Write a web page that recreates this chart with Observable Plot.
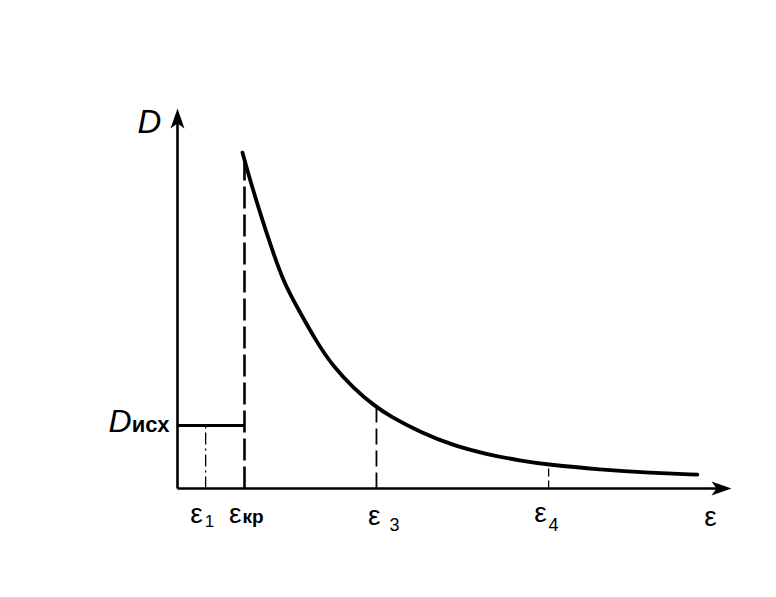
<!DOCTYPE html>
<html>
<head>
<meta charset="utf-8">
<script src="https://cdn.jsdelivr.net/npm/d3@7"></script>
<script src="https://cdn.jsdelivr.net/npm/@observablehq/plot@0.6"></script>
<style>
  html, body { margin: 0; padding: 0; background: #fff; }
</style>
</head>
<body>
<div id="chart"></div>
<script>
// ---- data (arbitrary units: ε along x, D along y) ----
const xMax = 8.27;          // end of ε axis (arrow tip)
const yMax = 6.03;          // end of D axis (arrow tip)
const dInitial = 1;         // D_исх
const dPeak = 5.33;         // D reached at ε_кр
const epsCr = 1;            // ε_кр
const eps1 = 0.42;          // ε_1
const eps3 = 2.97;          // ε_3
const eps4 = 5.54;          // ε_4
const dAtEps3 = 1.29;       // D(ε_3)
const dAtEps4 = 0.38;       // D(ε_4)

// D(ε) after ε_кр
const curveEps = [0.97, 1.09, 1.24, 1.39, 1.58, 1.81, 2.09, 2.33, 2.63, 2.93, 3.18, 3.63, 4.12, 4.63, 5.12, 5.52, 6.31, 7.06, 7.76];
const curveD   = [5.33, 4.87, 4.35, 3.86, 3.28, 2.83, 2.30, 1.93, 1.59, 1.32, 1.14, 0.89, 0.68, 0.54, 0.44, 0.38, 0.30, 0.25, 0.22];

const yLabel = "D";
const yLevelMain = "D";
const yLevelSub = "исх";
const xLabel = "ε";
const epsSymbol = "ε";
const crSub = "кр";
const sub1 = "1";
const sub3 = "3";
const sub4 = "4";

const curve = curveEps.map((e, i) => ({e, d: curveD[i]}));

// narrow filled arrow head, tip at the origin, pointing up
const arrowHead = {
  draw(context) {
    context.moveTo(0, 0);
    context.lineTo(7, 20);
    context.lineTo(0, 15);
    context.lineTo(-7, 20);
    context.closePath();
  }
};

const font = "Liberation Sans, Arial, sans-serif";
const vline = (x, top, opts) =>
  Plot.link([{x, y1: 0, y2: top}], {x1: "x", x2: "x", y1: "y1", y2: "y2", stroke: "black", ...opts});
const label = (x, str, opts) =>
  Plot.text([x], {x: d => d, y: () => 0, text: () => str, fontFamily: font, lineAnchor: "bottom", fill: "black", ...opts});

const chart = Plot.plot({
  width: 776,
  height: 597,
  marginLeft: 177,
  marginRight: 45,
  marginTop: 108,
  marginBottom: 109,
  x: {domain: [0, xMax], axis: null},
  y: {domain: [0, yMax], axis: null},
  marks: [
    // axes
    Plot.link([{x1: 0, y1: 0, x2: xMax - 0.2, y2: 0}], {x1: "x1", y1: "y1", x2: "x2", y2: "y2", stroke: "black", strokeWidth: 2.6}),
    Plot.link([{x1: 0, y1: 0, x2: 0, y2: yMax - 0.2}], {x1: "x1", y1: "y1", x2: "x2", y2: "y2", stroke: "black", strokeWidth: 2.6}),
    Plot.dot([{x: xMax, y: 0}], {x: "x", y: "y", symbol: arrowHead, r: 5, rotate: 90, fill: "black", stroke: "none"}),
    Plot.dot([{x: 0, y: yMax}], {x: "x", y: "y", symbol: arrowHead, r: 5, rotate: 0, fill: "black", stroke: "none"}),
    // D_исх level
    Plot.link([{x1: 0, y1: dInitial, x2: epsCr, y2: dInitial}], {x1: "x1", y1: "y1", x2: "x2", y2: "y2", stroke: "black", strokeWidth: 2.8}),
    // vertical markers
    vline(epsCr, dPeak, {strokeWidth: 2.6, strokeDasharray: "22,6"}),
    vline(eps1, dInitial, {strokeWidth: 1.3, strokeDasharray: "12,4,2,4"}),
    vline(eps3, dAtEps3, {strokeWidth: 1.8, strokeDasharray: "16,6"}),
    vline(eps4, dAtEps4, {strokeWidth: 1.3, strokeDasharray: "8,4"}),
    // curve
    Plot.line(curve, {x: "e", y: "d", curve: "basis", stroke: "black", strokeWidth: 3.8}),
    // axis labels
    Plot.text([{x: 0, y: yMax}], {x: "x", y: "y", text: () => yLabel, fontFamily: font, fontStyle: "italic", fontSize: 33, textAnchor: "middle", lineAnchor: "bottom", dx: -28, dy: 24, fill: "black"}),
    Plot.text([{x: 0, y: dInitial}], {x: "x", y: "y", text: () => yLevelMain, fontFamily: font, fontStyle: "italic", fontSize: 32, textAnchor: "end", lineAnchor: "bottom", dx: -46, dy: 7, fill: "black"}),
    Plot.text([{x: 0, y: dInitial}], {x: "x", y: "y", text: () => yLevelSub, fontFamily: font, fontWeight: "bold", fontSize: 22, textAnchor: "end", lineAnchor: "bottom", dx: -8, dy: 7, fill: "black"}),
    Plot.text([{x: xMax, y: 0}], {x: "x", y: "y", text: () => xLabel, fontFamily: font, fontSize: 28, textAnchor: "middle", lineAnchor: "bottom", dx: -21, dy: 37, fill: "black"}),
    // tick labels
    label(eps1, epsSymbol, {fontSize: 28, textAnchor: "end", dx: -3, dy: 34}),
    label(eps1, sub1, {fontSize: 17, textAnchor: "start", dx: -1, dy: 38}),
    label(epsCr, epsSymbol, {fontSize: 28, textAnchor: "end", dx: -3, dy: 34}),
    label(epsCr, crSub, {fontSize: 19, fontWeight: "bold", textAnchor: "start", dx: -2, dy: 34}),
    label(eps3, epsSymbol, {fontSize: 28, textAnchor: "end", dx: 4, dy: 36}),
    label(eps3, sub3, {fontSize: 18, textAnchor: "start", dx: 13, dy: 42}),
    label(eps4, epsSymbol, {fontSize: 28, textAnchor: "end", dx: -2, dy: 33}),
    label(eps4, sub4, {fontSize: 18, textAnchor: "start", dx: 0, dy: 42})
  ]
});

document.getElementById("chart").appendChild(chart);
</script>
</body>
</html>
